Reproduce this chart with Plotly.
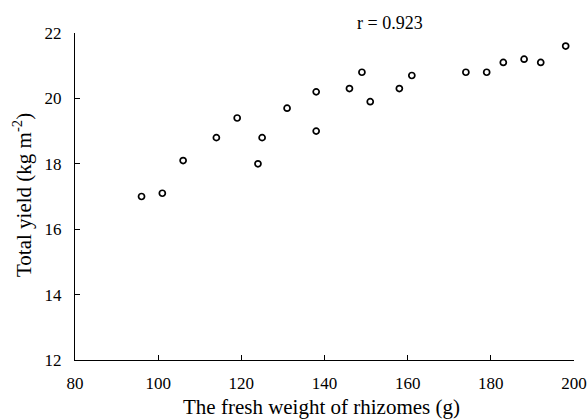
import plotly.graph_objects as go

fresh_weight = [96, 101, 106, 114, 119, 124, 125, 131, 138, 138,
                146, 149, 151, 158, 161, 174, 179, 183, 188, 192, 198]
total_yield = [17.0, 17.1, 18.1, 18.8, 19.4, 18.0, 18.8, 19.7, 20.2, 19.0,
               20.3, 20.8, 19.9, 20.3, 20.7, 20.8, 20.8, 21.1, 21.2, 21.1, 21.6]
x_ticks = [80, 100, 120, 140, 160, 180, 200]
y_ticks = [12, 14, 16, 18, 20, 22]
r_label = "r = 0.923"
x_title = "The fresh weight of rhizomes (g)"
y_title = "Total yield (kg m<sup>-2</sup>)"

font_family = "Liberation Serif, Times New Roman, serif"

fig = go.Figure()
fig.add_trace(go.Scatter(
    x=fresh_weight, y=total_yield, mode="markers",
    marker=dict(symbol="circle-open", size=6, color="black", line=dict(width=1.7, color="black")),
    showlegend=False,
))

fig.update_layout(
    width=587, height=419,
    margin=dict(l=75, r=13, t=33, b=59),
    paper_bgcolor="white", plot_bgcolor="white",
    font=dict(family=font_family, size=17, color="black"),
    xaxis=dict(
        range=[80, 200], tickvals=x_ticks, ticks="inside", ticklen=5, tickwidth=1,
        tickcolor="black", showline=True, linecolor="black", linewidth=1.3,
        showgrid=False, zeroline=False, ticklabelstandoff=7, automargin=False,
        tickfont=dict(size=17),
    ),
    yaxis=dict(
        range=[12, 22], tickvals=y_ticks, ticks="inside", ticklen=5, tickwidth=1,
        tickcolor="black", showline=True, linecolor="black", linewidth=1.3,
        showgrid=False, zeroline=False, ticklabelstandoff=9, automargin=False,
        tickfont=dict(size=17),
    ),
    annotations=[
        dict(text=r_label, x=0.632, y=1.0306, xref="paper", yref="paper",
             xanchor="center", yanchor="middle", showarrow=False,
             font=dict(size=18, family=font_family)),
        dict(text=x_title, x=0.493, y=-0.1437, xref="paper", yref="paper",
             xanchor="center", yanchor="middle", showarrow=False,
             font=dict(size=21, family=font_family)),
        dict(text=y_title, x=-0.1042, y=0.5046, xref="paper", yref="paper",
             xanchor="center", yanchor="middle", showarrow=False, textangle=-90,
             font=dict(size=21, family=font_family)),
    ],
)

fig.write_html(
    "out.html",
    config={"displayModeBar": False},
    post_script="document.body.style.margin='0';document.body.style.padding='0';document.body.style.overflow='hidden';",
)
